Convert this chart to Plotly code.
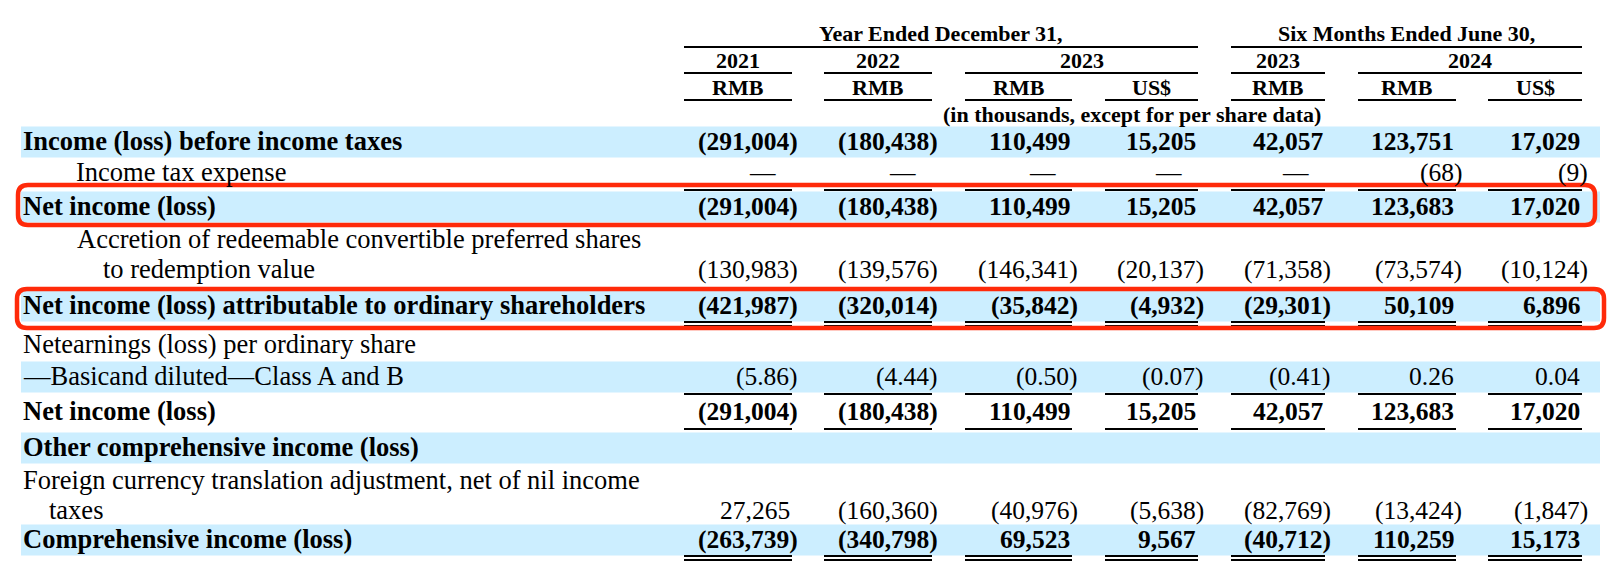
import plotly.graph_objects as go

# ------------------------------------------------------------------ data
group_titles = ["Year Ended December 31,", "Six Months Ended June 30,"]
year_labels = ["2021", "2022", "2023", "2023", "2024"]
currency_labels = ["RMB", "RMB", "RMB", "US$", "RMB", "RMB", "US$"]
unit_note = "(in thousands, except for per share data)"

row_labels = [
    "Income (loss) before income taxes",
    "Income tax expense",
    "Net income (loss)",
    "Accretion of redeemable convertible preferred shares",
    "to redemption value",
    "Net income (loss) attributable to ordinary shareholders",
    "Netearnings (loss) per ordinary share",
    "—Basicand diluted—Class A and B",
    "Net income (loss)",
    "Other comprehensive income (loss)",
    "Foreign currency translation adjustment, net of nil income",
    "taxes",
    "Comprehensive income (loss)",
]

income_before_tax = [-291004, -180438, 110499, 15205, 42057, 123751, 17029]
income_tax_expense = [0, 0, 0, 0, 0, -68, -9]
net_income = [-291004, -180438, 110499, 15205, 42057, 123683, 17020]
accretion = [-130983, -139576, -146341, -20137, -71358, -73574, -10124]
net_income_attributable = [-421987, -320014, -35842, -4932, -29301, 50109, 6896]
eps_basic_diluted = [-5.86, -4.44, -0.50, -0.07, -0.41, 0.26, 0.04]
fx_translation_adj = [27265, -160360, -40976, -5638, -82769, -13424, -1847]
comprehensive_income = [-263739, -340798, 69523, 9567, -40712, 110259, 15173]

row_values = [
    income_before_tax, income_tax_expense, net_income, None, accretion,
    net_income_attributable, None, eps_basic_diluted, net_income, None,
    None, fx_translation_adj, comprehensive_income,
]
row_decimals = [0, 0, 0, 0, 0, 0, 2, 2, 0, 0, 0, 0, 0]

# ------------------------------------------------------------------ layout / style
W, H = 1620, 582
FONT = "Liberation Serif, Times New Roman, serif"
LABEL_SIZE = 26.5
NUM_SIZE = 25.5
HEAD_SIZE = 22
BAND = "#cceeff"
RED = "#ff2a0a"

col_start = [684, 824, 965, 1105, 1231, 1358, 1488]
col_end = [792, 932, 1072, 1198, 1325, 1456, 1582]
year_cols = [[0], [1], [2, 3], [4], [5, 6]]
group_cols = [[0, 1, 2, 3], [4, 5, 6]]

row_y = [142, 173, 207, 240, 270, 306, 345, 377, 412, 448, 481, 511, 540]
row_bold = [True, False, True, False, False, True, False, False, True, True, False, False, True]
row_indent = [21, 74, 21, 75, 101, 21, 21, 21, 21, 21, 21, 47, 21]
band_rows = [0, 2, 5, 7, 9, 12]
single_rule_rows = [1, 7, 8]
double_rule_rows = [5, 12]
highlight = [  # (x0, y0, x1, y1) stroke centre lines
    (18, 185, 1595, 225),
    (17, 289, 1604, 328),
]
TEXT_DY = -1
PAREN_W = 0.333 * NUM_SIZE
DASH_OFF = 14


def fmt(v, d):
    if v == 0:
        return "—"
    s = f"{abs(v):,.{d}f}"
    return f"({s})" if v < 0 else s


def rrect(x0, y0, x1, y1, r):
    return (f"M {x0+r},{y0} L {x1-r},{y0} Q {x1},{y0} {x1},{y0+r} "
            f"L {x1},{y1-r} Q {x1},{y1} {x1-r},{y1} L {x0+r},{y1} "
            f"Q {x0},{y1} {x0},{y1-r} L {x0},{y0+r} Q {x0},{y0} {x0+r},{y0} Z")


fig = go.Figure()
fig.add_trace(go.Scatter(x=[0, W], y=[0, H], mode="markers",
                         marker=dict(opacity=0), hoverinfo="skip", showlegend=False))

shapes = []
annotations = []


def hline(x0, x1, y, w=2):
    shapes.append(dict(type="line", xref="x", yref="y", x0=x0, x1=x1, y0=y, y1=y,
                       line=dict(color="black", width=w), layer="above"))


def text(x, y, s, anchor, size, bold=False):
    annotations.append(dict(x=x, y=y, xref="x", yref="y", text=f"<b>{s}</b>" if bold else s,
                            showarrow=False, xanchor=anchor, yanchor="middle",
                            font=dict(family=FONT, size=size, color="black")))


# header
for title, cols in zip(group_titles, group_cols):
    x0, x1 = col_start[cols[0]], col_end[cols[-1]]
    text((x0 + x1) / 2, 33, title, "center", HEAD_SIZE, True)
    hline(x0, x1, 47)
for yl, cols in zip(year_labels, year_cols):
    x0, x1 = col_start[cols[0]], col_end[cols[-1]]
    text((x0 + x1) / 2, 60, yl, "center", HEAD_SIZE, True)
    hline(x0, x1, 73)
for i, cur in enumerate(currency_labels):
    text((col_start[i] + col_end[i]) / 2, 87, cur, "center", HEAD_SIZE, True)
    hline(col_start[i], col_end[i], 100)
text(1132, 114, unit_note, "center", HEAD_SIZE, True)

# bands
for r in band_rows:
    shapes.append(dict(type="rect", xref="x", yref="y", x0=21, x1=1600,
                       y0=row_y[r] - 15.5, y1=row_y[r] + 15.5,
                       fillcolor=BAND, line=dict(width=0), layer="below"))

# body
for r, lab in enumerate(row_labels):
    text(row_indent[r], row_y[r] + TEXT_DY, lab, "left", LABEL_SIZE, row_bold[r])
    vals = row_values[r]
    if vals is None:
        continue
    for c, v in enumerate(vals):
        s = fmt(v, row_decimals[r])
        if v == 0:
            x = col_end[c] - DASH_OFF
        elif v < 0:
            x = col_end[c] + PAREN_W
        else:
            x = col_end[c]
        text(x, row_y[r] + TEXT_DY, s, "right", NUM_SIZE, row_bold[r])

for r in single_rule_rows:
    for c in range(len(col_start)):
        hline(col_start[c], col_end[c], row_y[r] + 17)
for r in double_rule_rows:
    for c in range(len(col_start)):
        hline(col_start[c], col_end[c], row_y[r] + 16)
        hline(col_start[c], col_end[c], row_y[r] + 20)

for (x0, y0, x1, y1) in highlight:
    shapes.append(dict(type="path", xref="x", yref="y", path=rrect(x0, y0, x1, y1, 10),
                       line=dict(color=RED, width=4.5), layer="above"))

fig.update_layout(
    width=W, height=H, margin=dict(l=0, r=0, t=0, b=0),
    paper_bgcolor="white", plot_bgcolor="white",
    xaxis=dict(range=[0, W], visible=False, fixedrange=True),
    yaxis=dict(range=[H, 0], visible=False, fixedrange=True),
    shapes=shapes, annotations=annotations, showlegend=False,
)

fig.write_html("out.html", config={"displayModeBar": False},
               post_script="document.body.style.margin='0';document.body.style.overflow='hidden';")
